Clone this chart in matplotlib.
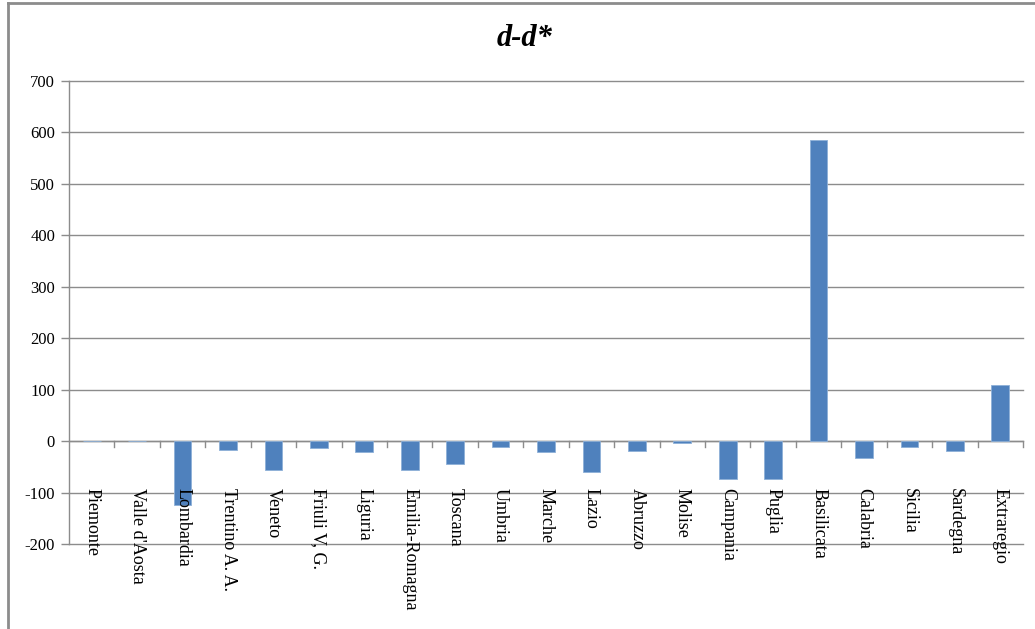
import matplotlib
matplotlib.use("Agg")
import matplotlib.pyplot as plt
from matplotlib.lines import Line2D
import numpy as np

categories = ["Piemonte", "Valle d'Aosta", "Lombardia", "Trentino A. A.", "Veneto",
              "Friuli V, G.", "Liguria", "Emilia-Romagna", "Toscana", "Umbria",
              "Marche", "Lazio", "Abruzzo", "Molise", "Campania", "Puglia",
              "Basilicata", "Calabria", "Sicilia", "Sardegna", "Extraregio"]
values = [0, 0, -125, -17, -56, -14, -22, -56, -45, -12, -22, -61, -20, -3,
          -73, -73, 586, -32, -12, -20, 110]
yticks = [-200, -100, 0, 100, 200, 300, 400, 500, 600, 700]
title = "d-d*"

W, H = 1035, 629
fig = plt.figure(figsize=(W / 100, H / 100), dpi=100)
fig.patch.set_facecolor("white")

# outer chart border (left and top visible)
fig.add_artist(Line2D([7.5 / W, 7.5 / W], [0, 1 - 2.5 / H], transform=fig.transFigure,
                      color="#8c8c8c", lw=2))
fig.add_artist(Line2D([7.5 / W, 1], [1 - 2.5 / H, 1 - 2.5 / H], transform=fig.transFigure,
                      color="#8c8c8c", lw=2))

left, right = 69 / W, 1023 / W
top, bottom = 1 - 81 / H, 1 - 544 / H
ax = fig.add_axes([left, bottom, right - left, top - bottom])

x = np.arange(len(categories))
ax.bar(x, values, width=0.39, color="#4F81BD", edgecolor="#8EB0D8", linewidth=0.6, zorder=3)

ax.set_xlim(-0.5, len(categories) - 0.5)
ax.set_ylim(-200, 700)
ax.set_yticks(yticks)
ax.set_yticklabels([str(v) for v in yticks], fontfamily="Liberation Serif", fontsize=12)
ax.tick_params(axis="y", direction="out", length=6, width=1, color="#8c8c8c", pad=4)
ax.yaxis.grid(True, color="#8c8c8c", lw=1, zorder=0)
for gl in ax.get_ygridlines():
    gl.set_clip_on(False)

for s in ["top", "right", "bottom"]:
    ax.spines[s].set_visible(False)
ax.spines["left"].set_color("#8c8c8c")
ax.spines["left"].set_linewidth(1)

# category axis on the zero line with boundary ticks
ax.axhline(0, color="#8c8c8c", lw=1, zorder=2)
ax.set_xticks([])
for b in np.arange(0.5, len(categories) + 0.5, 1.0):
    ax.plot([b, b], [0, -12], color="#8c8c8c", lw=1, zorder=2, clip_on=False)

for xi, lab in zip(x, categories):
    ax.text(xi, -92, lab, rotation=270, ha="left", va="center", rotation_mode="anchor",
            fontfamily="Liberation Serif", fontsize=13, color="black", zorder=4)

fig.text(525 / W, 1 - 38 / H, title, ha="center", va="center",
         fontfamily="Liberation Serif", fontweight="bold", fontstyle="italic", fontsize=22)

fig.savefig("out.png", dpi=100, facecolor="white")
